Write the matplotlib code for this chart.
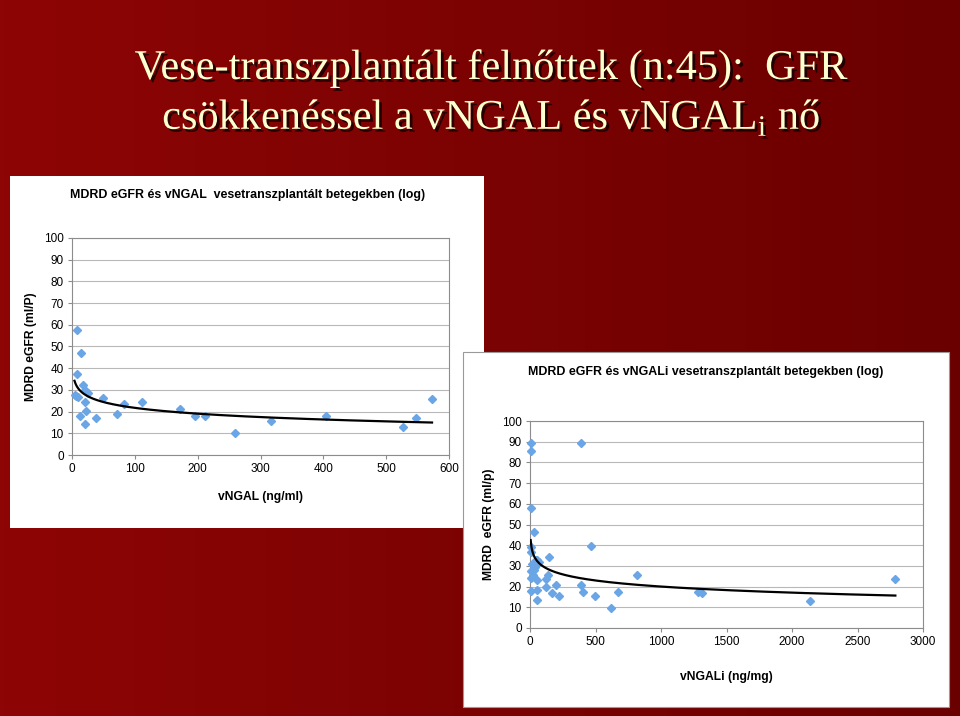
import numpy as np
import matplotlib
matplotlib.use("Agg")
import matplotlib.pyplot as plt
import matplotlib.patheffects as pe
from matplotlib.patches import Rectangle

plt.rcParams['font.family'] = ['Liberation Sans', 'DejaVu Sans']
plt.rcParams['mathtext.fontset'] = 'custom'
plt.rcParams['mathtext.rm'] = 'Liberation Serif'

# bal diagram: vNGAL (ng/ml) - MDRD eGFR
ngal = [8, 15, 8, 17, 26, 20, 4, 10, 6, 21, 22, 13, 21, 38, 50, 72, 82,
        112, 172, 196, 212, 260, 317, 404, 527, 547, 573]
egfr_ngal = [57.8, 46.8, 37.1, 32.2, 28.4, 29.9, 27.6, 26.8, 27.3, 24.4, 20.2,
             17.9, 14.3, 16.9, 26.1, 19.0, 23.3, 24.4, 21.2, 17.9, 17.9, 10.0,
             15.8, 17.9, 13.0, 17.0, 25.9]

# jobb diagram: vNGALi (ng/mg) - MDRD eGFR
ngali = [5, 10, 392, 10, 28, 5, 5, 468, 143, 56, 43, 69, 5, 28, 8, 53, 125,
         137, 125, 196, 8, 56, 168, 219, 53, 387, 405, 494, 616, 672, 815,
         1282, 1313, 2140, 2789, 15, 30, 40, 20]
egfr_ngali = [89.5, 85.7, 89.5, 57.9, 46.6, 38.9, 36.6, 39.7, 34.5, 32.9, 33.0,
              32.0, 27.3, 28.0, 24.1, 23.0, 23.6, 25.7, 20.0, 20.7, 17.7, 18.5,
              16.9, 15.6, 13.7, 20.7, 17.5, 15.6, 9.9, 17.6, 25.7, 17.4, 16.9,
              13.0, 23.8, 31.0, 30.0, 29.5, 25.5]

title1 = "Vese-transzplantált felnőttek (n:45):  GFR"
title2 = r"csökkenéssel a vNGAL és vNGAL$_{\mathrm{i}}$ nő"

W, H = 960, 716
fig = plt.figure(figsize=(W / 100, H / 100), dpi=100)


def px(x0, y0, x1, y1):
    return [x0 / W, 1 - y1 / H, (x1 - x0) / W, (y1 - y0) / H]


# háttér
bg = fig.add_axes([0, 0, 1, 1])
grad = np.linspace(0, 1, 256).reshape(1, -1)
cmap = matplotlib.colors.LinearSegmentedColormap.from_list('bg', ['#8E0505', '#6A0000'])
bg.imshow(grad, aspect='auto', cmap=cmap, extent=[0, 1, 0, 1])
bg.set_xlim(0, 1)
bg.set_ylim(0, 1)
bg.axis('off')

shadow = [pe.withSimplePatchShadow(offset=(2, -2), shadow_rgbFace='black', alpha=0.7)]
bg.text(491.5 / W, 1 - 79 / H, title1, family='Liberation Serif', fontsize=30.5,
        color='#FFFFD0', ha='center', va='baseline', path_effects=shadow)
bg.text(491.5 / W, 1 - 129 / H, title2, family='Liberation Serif', fontsize=30.5,
        color='#FFFFD0', ha='center', va='baseline', path_effects=shadow)

# fehér panelek
bg.add_patch(Rectangle((10 / W, 1 - 528 / H), 474 / W, 352 / H,
                       facecolor='white', edgecolor='none', transform=bg.transAxes))
bg.add_patch(Rectangle((463 / W, 1 - 707 / H), 486 / W, 355 / H,
                       facecolor='white', edgecolor='#9A9A9A', lw=0.8,
                       transform=bg.transAxes, zorder=3))


def scatter_panel(rect, x, y, xmax, xstep, title, xlabel, ylabel,
                  title_xy, xlab_y, ylab_x):
    ax = fig.add_axes(px(*rect))
    ax.set_zorder(5)
    ax.set_facecolor('white')
    ax.plot(x, y, 'D', color='#6AA5E6', ms=3.8, mec='#6AA5E6', zorder=3,
            clip_on=False)
    # logaritmikus trendvonal (Excel-szerű illesztés)
    a, b = np.polyfit(np.log(x), y, 1)
    xs = np.linspace(min(x), max(x), 400)
    ax.plot(xs, a * np.log(xs) + b, color='black', lw=1.6, zorder=4)
    ax.set_xlim(0, xmax)
    ax.set_ylim(0, 100)
    ax.set_xticks(np.arange(0, xmax + 1, xstep))
    ax.set_yticks(np.arange(0, 101, 10))
    ax.grid(axis='y', color='#B8B8B8', lw=0.8)
    ax.set_axisbelow(True)
    for s in ax.spines.values():
        s.set_color('#8C8C8C')
        s.set_linewidth(0.8)
    ax.tick_params(length=3, width=0.8, color='#8C8C8C', labelsize=8.5, pad=3)
    x0, y0, x1, y1 = rect
    fig.text(title_xy[0] / W, 1 - title_xy[1] / H, title, fontsize=8.9,
             weight='bold', ha='center', va='center')
    fig.text((x0 + x1) / 2 / W, 1 - xlab_y / H, xlabel, fontsize=8.7,
             weight='bold', ha='center', va='center')
    fig.text(ylab_x / W, 1 - ((y0 + y1) / 2) / H, ylabel, fontsize=8.7,
             weight='bold', ha='center', va='center', rotation=90)
    return ax


scatter_panel((72, 238, 449, 455), ngal, egfr_ngal, 600, 100,
              "MDRD eGFR és vNGAL  vesetranszplantált betegekben (log)",
              "vNGAL (ng/ml)", "MDRD eGFR (ml/P)", (248, 195), 497, 31)
scatter_panel((530, 421, 923, 628), ngali, egfr_ngali, 3000, 500,
              "MDRD eGFR és vNGALi vesetranszplantált betegekben (log)",
              "vNGALi (ng/mg)", "MDRD  eGFR (ml/p)", (706, 372), 677, 489)

fig.savefig("out.png", dpi=100)
